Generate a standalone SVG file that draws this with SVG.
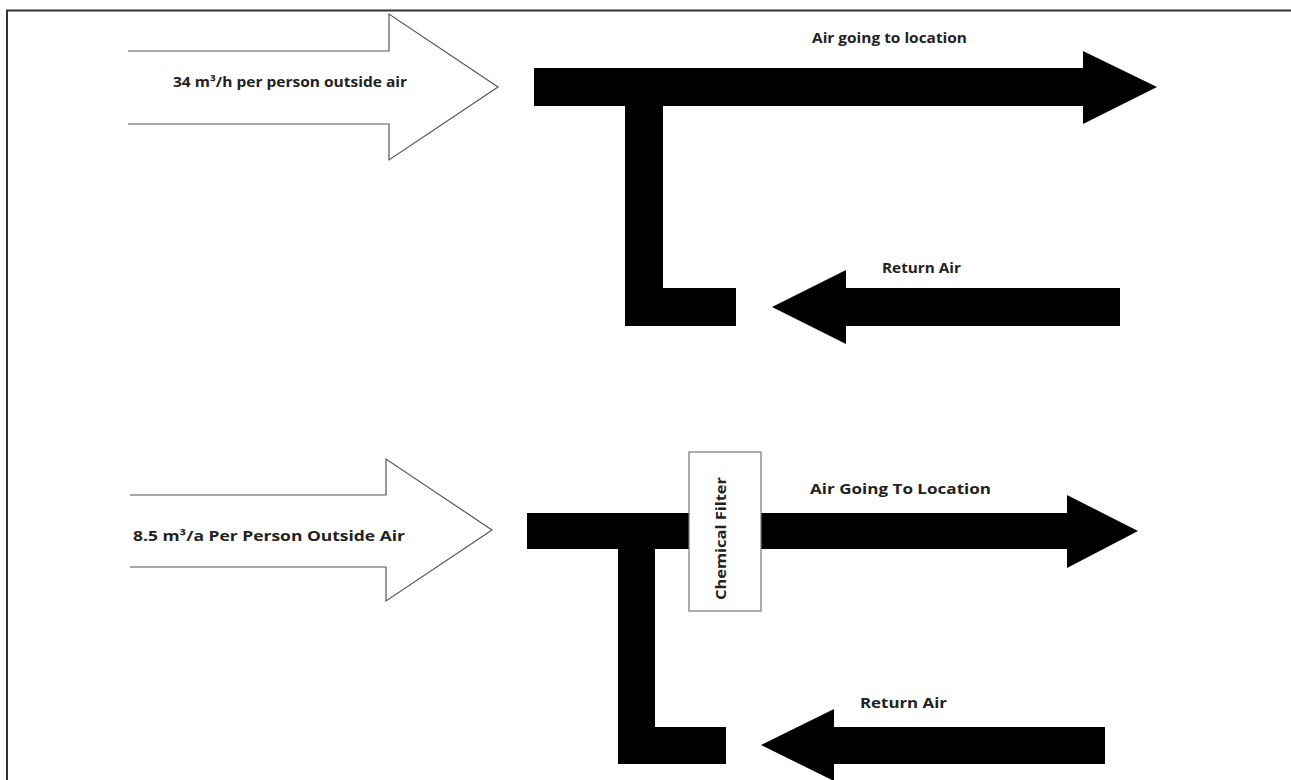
<svg xmlns="http://www.w3.org/2000/svg" width="1291" height="780" viewBox="0 0 1291 780">
<style>
.frame{stroke:#333;stroke-width:2;fill:none}
.hollow{fill:#fff;stroke:#555;stroke-width:1.2;stroke-linejoin:miter}
.duct{fill:#000;stroke:none}
.lbl{font-family:"Open Sans","Liberation Sans",sans-serif;font-weight:bold;font-size:15px;fill:#222}
.box{fill:#fff;stroke:#777;stroke-width:1.2}
</style>
<rect x="0" y="0" width="1291" height="780" fill="#fff"/>
<path class="frame" d="M7,780 V10.5 H1291"/>
<g id="outside-air-top">
<path class="hollow" d="M128,51 H389 V14 L498,87 L389,160 V124 H128"/>
<text class="lbl" x="173" y="87" textLength="234" lengthAdjust="spacingAndGlyphs">34 m³/h per person outside air</text>
</g>
<g id="outside-air-bottom">
<path class="hollow" d="M130,495 H386 V459 L492,530 L386,601 V567 H130"/>
<text class="lbl" x="133" y="541" textLength="272" lengthAdjust="spacingAndGlyphs">8.5 m³/a Per Person Outside Air</text>
</g>
<g id="connectors">
<g id="duct-top">
<path class="duct" d="M534,68 H1083 V51 L1157,87 L1083,124 V106 H663 V288 H736 V326 H625 V106 H534 Z"/>
<path class="duct" d="M1120,288 H846 V270 L772,307 L846,344 V326 H1120 Z"/>
</g>
<g id="duct-bottom">
<path class="duct" d="M527,513 H1067 V495 L1138,531 L1067,568 V549 H655 V727 H726 V764 H618 V549 H527 Z"/>
<path class="duct" d="M1105,727 H834 V709 L761,745 L834,781 V764 H1105 Z"/>
</g>
</g>
<g id="label-air-going-top">
<text class="lbl" x="812" y="43" textLength="155" lengthAdjust="spacingAndGlyphs">Air going to location</text>
</g>
<g id="label-return-top">
<text class="lbl" x="882" y="273" textLength="79" lengthAdjust="spacingAndGlyphs">Return Air</text>
</g>
<g id="label-air-going-bottom">
<text class="lbl" x="810" y="494" textLength="181" lengthAdjust="spacingAndGlyphs">Air Going To Location</text>
</g>
<g id="label-return-bottom">
<text class="lbl" x="860" y="708" textLength="87" lengthAdjust="spacingAndGlyphs">Return Air</text>
</g>
<g id="chemical-filter">
<rect class="box" x="689" y="452" width="72" height="159"/>
<text class="lbl" transform="translate(726,600) rotate(-90)" x="0" y="0" textLength="123" lengthAdjust="spacingAndGlyphs">Chemical Filter</text>
</g>
</svg>
